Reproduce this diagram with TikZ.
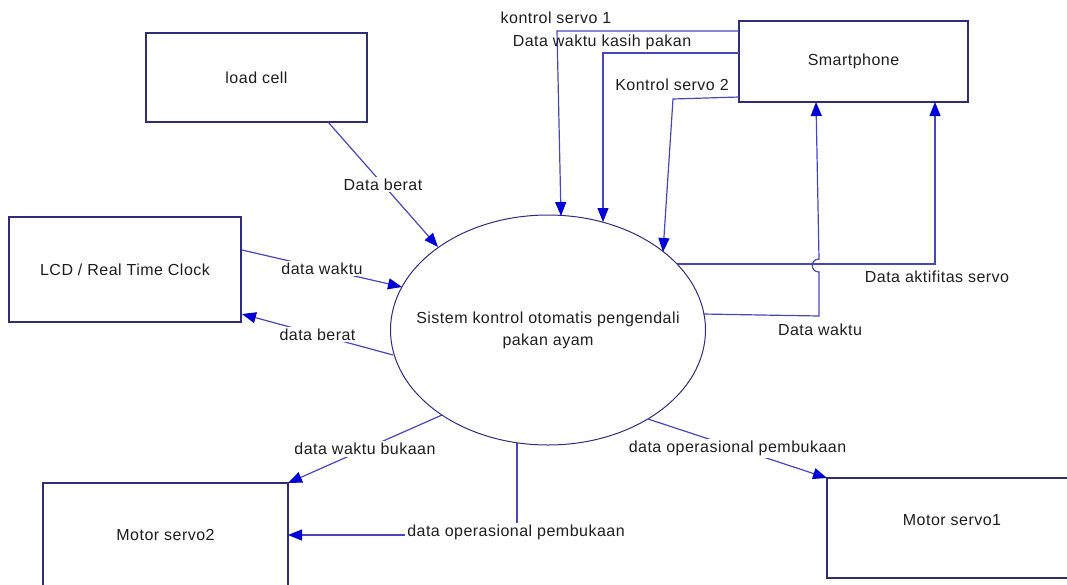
\documentclass[tikz,border=0pt]{standalone}
\usepackage{fontspec}
\setmainfont{Liberation Sans}[LetterSpace=3.0]
\usetikzlibrary{arrows.meta,shapes.geometric}
\definecolor{linec}{RGB}{70,70,190}
\definecolor{boxc}{RGB}{45,45,120}
\definecolor{arrc}{RGB}{0,0,215}
\definecolor{txtc}{RGB}{30,30,30}
\begin{document}
\begin{tikzpicture}[x=1pt,y=-1pt,
  box/.style={draw=boxc, line width=1.1pt, fill=white, text=txtc, inner sep=0pt,
    font=\fontsize{16}{19}\selectfont},
  lbl/.style={text=txtc, inner sep=2pt, font=\fontsize{16}{19}\selectfont},
  lblw/.style={lbl, fill=white},
  flow/.style={draw=linec, line width=1.2pt, -{Triangle[length=14pt,width=11pt,color=arrc]}},
  plain/.style={draw=linec, line width=1.2pt}]
\useasboundingbox (0,0) rectangle (1067,584);
\clip (0,0) rectangle (1067,584);

% entities
\node[box, minimum width=221pt, minimum height=89pt] (lc) at (256.5,77.5) {load cell};
\node[box, minimum width=232pt, minimum height=105pt] (lcd) at (125,269.5) {LCD / Real Time Clock};
\node[box, minimum width=229pt, minimum height=81pt] (sp) at (853.5,61.5) {Smartphone};
\node[box, minimum width=245pt, minimum height=104pt] (ms2) at (165.5,535) {Motor servo2};
\node[box, minimum width=250pt, minimum height=100pt] (ms1) at (952,528) {};
\node[lbl] (ms1t) at (952,520) {Motor servo1};

% process
\node[draw=boxc, line width=1pt, ellipse, minimum width=315pt, minimum height=230pt,
  inner sep=0pt] (sys) at (548,330) {};
\node[align=center, text=txtc, inner sep=0pt, font=\fontsize{16}{22}\selectfont]
  (syst) at (sys.center) {Sistem kontrol otomatis pengendali\\pakan ayam};

% connection points
\coordinate (lcA) at (328,122);
\coordinate (eA) at (438,247);
\coordinate (lcdA) at (242,250);
\coordinate (eB) at (402,287);
\coordinate (eC) at (393,355);
\coordinate (lcdB) at (242,314);
\coordinate (spA) at (739,31);
\coordinate (kA) at (557,31);
\coordinate (eD) at (561,216);
\coordinate (spB) at (739,53);
\coordinate (kB) at (603,53);
\coordinate (eE) at (603,222);
\coordinate (spC) at (739,97);
\coordinate (kC) at (673,99);
\coordinate (eF) at (663,252);
\coordinate (eG) at (677,264);
\coordinate (kG) at (935,264);
\coordinate (spD) at (935,102);
\coordinate (eH) at (703,314);
\coordinate (kH) at (819,316);
\coordinate (hopA) at (819,272);
\coordinate (hopB) at (819,259);
\coordinate (spE) at (816,102);
\coordinate (eI) at (442,415);
\coordinate (ms2A) at (288,483);
\coordinate (eJ) at (517,443);
\coordinate (kJ) at (517,535);
\coordinate (ms2B) at (288,535);
\coordinate (eK) at (648,419);
\coordinate (ms1A) at (827,478);

% flows
\draw[flow] (lcA) -- node[lblw]{Data berat} (eA);
\draw[flow] (lcdA) -- node[lblw]{data waktu} (eB);
\draw[flow] (eC) -- node[lblw]{data berat} (lcdB);
\draw[flow] (spA) -- (kA) -- (eD);
\draw[flow] (spB) -- (kB) -- (eE);
\draw[flow] (spC) -- (kC) -- (eF);
\draw[flow] (eG) -- (kG) -- (spD);
\draw[flow] (eH) -- (kH) -- (hopA) .. controls (810,272) and (810,259) .. (hopB) -- (spE);
\draw[flow] (eI) -- node[lblw]{data waktu bukaan} (ms2A);
\draw[flow] (eJ) -- (kJ) -- (ms2B);
\node[lblw] (opL) at (516,532) {data operasional pembukaan};
\draw[flow] (eK) -- node[lblw]{data operasional pembukaan} (ms1A);

% free labels
\node[lbl] (l1) at (556,18) {kontrol servo 1};
\node[lbl] (l2) at (602,42) {Data waktu kasih pakan};
\node[lbl] (l3) at (672,85) {Kontrol servo 2};
\node[lbl] (l4) at (937,277) {Data aktifitas servo};
\node[lbl] (l5) at (820,330) {Data waktu};
\end{tikzpicture}
\end{document}
